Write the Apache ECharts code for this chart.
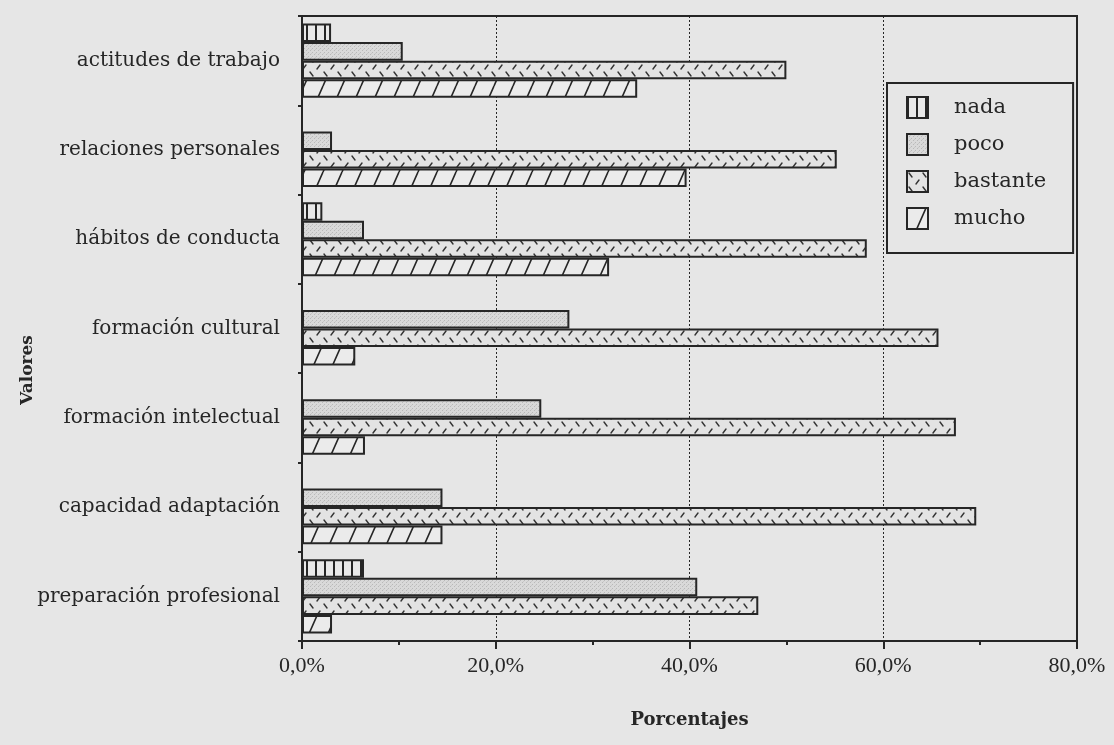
<!DOCTYPE html>
<html>
<head>
<meta charset="utf-8">
<script src="https://cdn.jsdelivr.net/npm/echarts@6/dist/echarts.min.js"></script>
<style>
  html, body { margin: 0; padding: 0; background: #e6e6e6; }
  #chart { width: 1114px; height: 745px; }
</style>
</head>
<body>
<div id="chart"></div>
<script>
// Categories listed top to bottom
const categories = [
  'actitudes de trabajo',
  'relaciones personales',
  'hábitos de conducta',
  'formación cultural',
  'formación intelectual',
  'capacidad adaptación',
  'preparación profesional'
];
const seriesNames = ['nada', 'poco', 'bastante', 'mucho'];
// Percentages per category (same order as categories)
const nada     = [3.0, 0, 2.1, 0, 0, 0, 6.4];
const poco     = [10.4, 3.1, 6.4, 27.6, 24.7, 14.5, 40.8];
const bastante = [50.0, 55.2, 58.3, 65.7, 67.5, 69.6, 47.1];
const mucho    = [34.6, 39.7, 31.7, 5.5, 6.5, 14.5, 3.1];
const xTicks = [0, 20, 40, 60, 80];

const INK = '#262626';
const BG = '#e6e6e6';

function tile(w, h, draw) {
  const c = document.createElement('canvas');
  c.width = w; c.height = h;
  const ctx = c.getContext('2d');
  draw(ctx, w, h);
  return c;
}

// vertical stripes
const patNada = tile(9, 10, (ctx, w, h) => {
  ctx.fillStyle = '#e9e9e9'; ctx.fillRect(0, 0, w, h);
  ctx.fillStyle = INK; ctx.fillRect(0, 0, 2, h);
});
// fine grey stipple
const patPoco = tile(4, 4, (ctx, w, h) => {
  ctx.fillStyle = '#d9d9d9'; ctx.fillRect(0, 0, w, h);
  ctx.fillStyle = '#b9b9b9';
  ctx.fillRect(0, 0, 1, 1); ctx.fillRect(2, 2, 1, 1);
  ctx.fillStyle = '#c8c8c8';
  ctx.fillRect(3, 1, 1, 1);
});
// short alternating strokes
const patBastante = tile(14, 14, (ctx, w, h) => {
  ctx.fillStyle = '#e3e3e3'; ctx.fillRect(0, 0, w, h);
  ctx.strokeStyle = '#333'; ctx.lineWidth = 1.4; ctx.lineCap = 'round';
  ctx.beginPath();
  ctx.moveTo(2, 2); ctx.lineTo(5, 6);
  ctx.moveTo(9, 13); ctx.lineTo(12, 9);
  ctx.stroke();
});
// forward diagonal hatching
const patMucho = tile(19, 43, (ctx, w, h) => {
  ctx.fillStyle = '#ebebeb'; ctx.fillRect(0, 0, w, h);
  ctx.strokeStyle = INK; ctx.lineWidth = 1.6;
  ctx.beginPath();
  for (let k = -1; k <= 1; k++) {
    ctx.moveTo(k * w, h); ctx.lineTo(k * w + w, 0);
  }
  ctx.stroke();
});

const patterns = [patNada, patPoco, patBastante, patMucho];
const values = [nada, poco, bastante, mucho];

const chart = echarts.init(document.getElementById('chart'), null, { renderer: 'canvas' });

const serif = '"DejaVu Serif", "Liberation Serif", serif';
const tickFont = '"Liberation Serif", serif';

chart.setOption({
  backgroundColor: BG,
  animation: false,
  grid: {
    left: 302, right: 37, top: 16, bottom: 104,
    show: true, borderColor: INK, borderWidth: 2, backgroundColor: 'transparent'
  },
  legend: {
    orient: 'vertical',
    left: 887, top: 83,
    padding: [13, 27, 23, 19],
    itemGap: 14,
    itemWidth: 21, itemHeight: 21,
    icon: 'rect',
    borderColor: INK, borderWidth: 2,
    data: seriesNames,
    formatter: name => '{t|' + name + '}',
    textStyle: {
      color: INK,
      rich: { t: { fontFamily: serif, fontSize: 21, lineHeight: 21, color: INK, padding: [0, 0, 0, 21] } }
    }
  },
  xAxis: {
    type: 'value',
    min: xTicks[0], max: xTicks[xTicks.length - 1], interval: 20,
    name: 'Porcentajes',
    nameLocation: 'middle',
    nameGap: 70,
    nameTextStyle: { fontFamily: serif, fontSize: 18, fontWeight: 'bold', color: INK },
    axisLine: { show: true, lineStyle: { color: INK, width: 2 } },
    axisTick: { show: true, length: 8, lineStyle: { color: INK, width: 2 } },
    minorTick: { show: true, splitNumber: 2, length: 4, lineStyle: { color: INK, width: 2 } },
    axisLabel: {
      margin: 14,
      fontFamily: tickFont, fontSize: 22, color: INK,
      formatter: v => v.toFixed(1).replace('.', ',') + '%'
    },
    splitLine: { show: true, lineStyle: { color: INK, width: 1, type: [2, 2] } }
  },
  yAxis: {
    type: 'category',
    inverse: true,
    data: categories,
    axisLine: { show: true, lineStyle: { color: INK, width: 2 } },
    axisTick: { show: true, length: 4, alignWithLabel: false, lineStyle: { color: INK, width: 2 } },
    axisLabel: { margin: 22, fontFamily: serif, fontSize: 20, color: INK },
    splitLine: { show: false }
  },
  graphic: [{
    type: 'text',
    x: 28, y: 370,
    rotation: Math.PI / 2,
    style: {
      text: 'Valores',
      font: 'bold 17px ' + serif,
      fill: INK,
      align: 'center',
      verticalAlign: 'middle'
    }
  }],
  series: seriesNames.map((name, i) => ({
    name,
    type: 'bar',
    data: values[i],
    barGap: '0%',
    barCategoryGap: '17%',
    itemStyle: {
      color: { image: patterns[i], repeat: 'repeat' },
      borderColor: INK,
      borderWidth: 2
    }
  }))
});
</script>
</body>
</html>
